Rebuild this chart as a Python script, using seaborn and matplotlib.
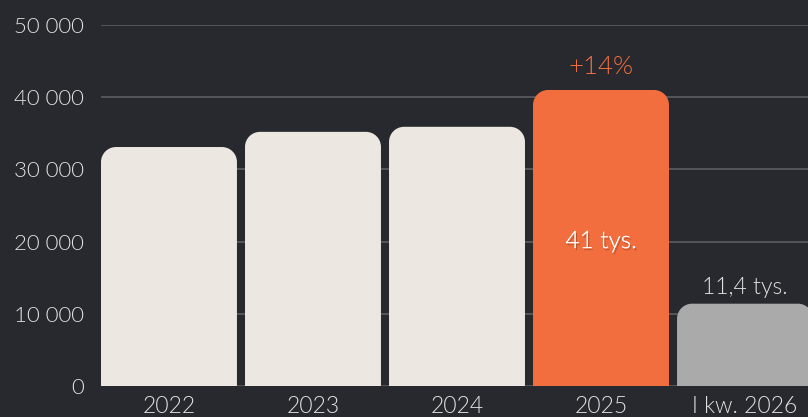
import matplotlib
matplotlib.use("Agg")
import matplotlib.pyplot as plt
import seaborn as sns
import pandas as pd
from matplotlib.path import Path
from matplotlib.patches import PathPatch
import matplotlib.patheffects as pe

categories = ["2022", "2023", "2024", "2025", "I kw. 2026"]
values = [33100, 35200, 35900, 41000, 11400]
colors = ["#ECE8E1", "#ECE8E1", "#ECE8E1", "#F26E3E", "#AAAAAA"]
yticks = [0, 10000, 20000, 30000, 40000, 50000]
ytick_labels = ["0", "10 000", "20 000", "30 000", "40 000", "50 000"]

BG = "#27292E"
TXT = "#E2E2E2"

sns.set_theme(style="dark")
plt.rcParams["font.family"] = ["Lato", "DejaVu Sans"]
plt.rcParams["font.weight"] = 300

W, H = 808, 417
fig = plt.figure(figsize=(W / 100, H / 100), dpi=100, facecolor=BG)
left, right, bottom, top = 101, 813, 386, 25
XL = (-0.472, 4.472)
ax = fig.add_axes([left / W, (H - bottom) / H, (right - left) / W, (bottom - top) / H])
ax.set_facecolor(BG)

df = pd.DataFrame({"cat": categories, "val": values})
sns.barplot(data=df, x="cat", y="val", hue="cat", palette=colors, legend=False,
            width=0.944, ax=ax, saturation=1, zorder=3)

ax.set_xlim(*XL)
ax.set_ylim(0, 50000)
ax.set_yticks(yticks)
ax.set_yticklabels(ytick_labels)
ax.grid(axis="y", color="#5C5D61", linewidth=1.2, zorder=0)
ax.grid(axis="x", visible=False)
for s in ax.spines.values():
    s.set_visible(False)
ax.tick_params(axis="y", length=0, pad=12, labelsize=16, labelcolor=TXT)
ax.tick_params(axis="x", length=0, pad=7, labelsize=16.5, labelcolor=TXT)
ax.set_xlabel("")
ax.set_ylabel("")

# replace bars with rounded-top versions
px_per_x = (right - left) / (XL[1] - XL[0])
px_per_y = (bottom - top) / 50000
r_px = 15
k = 0.5523
for p in list(ax.patches):
    x0 = p.get_x(); w = p.get_width(); h = p.get_height()
    fc = p.get_facecolor()
    rx = r_px / px_per_x
    ry = r_px / px_per_y
    x1 = x0 + w
    verts = [(x0, 0), (x0, h - ry),
             (x0, h - ry + k * ry), (x0 + rx - k * rx, h), (x0 + rx, h),
             (x1 - rx, h),
             (x1 - rx + k * rx, h), (x1, h - ry + k * ry), (x1, h - ry),
             (x1, 0), (x0, 0)]
    codes = [Path.MOVETO, Path.LINETO,
             Path.CURVE4, Path.CURVE4, Path.CURVE4,
             Path.LINETO,
             Path.CURVE4, Path.CURVE4, Path.CURVE4,
             Path.LINETO, Path.CLOSEPOLY]
    p.remove()
    ax.add_patch(PathPatch(Path(verts, codes), facecolor=fc, edgecolor="none", zorder=3))

ax.text(3, 20000, "41 tys.", ha="center", va="center", fontsize=17.5, color="white", zorder=5,
        path_effects=[pe.withSimplePatchShadow(offset=(1, -1.5), shadow_rgbFace="#8a3a1c", alpha=0.5),
                      pe.Normal()])
ax.text(3, values[3] + 1500, "+14%", ha="center", va="bottom", fontsize=18.5, color="#F26E3E", zorder=5)
ax.text(4, values[4] + 800, "11,4 tys.", ha="center", va="bottom", fontsize=16.5, color=TXT, zorder=5)

fig.savefig("out.png", dpi=100, facecolor=BG)
